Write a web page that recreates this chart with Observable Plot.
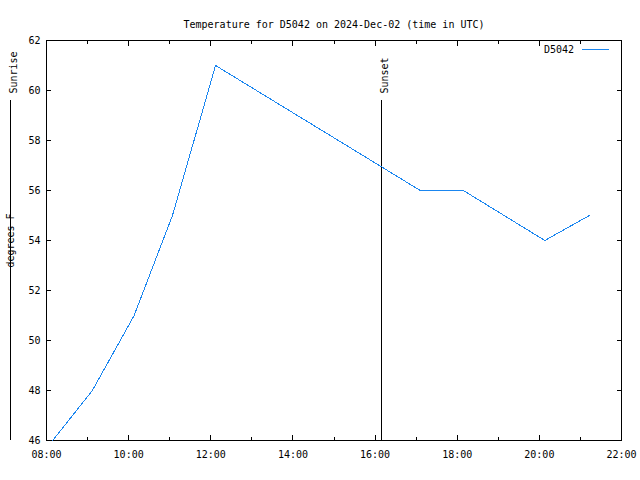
<!DOCTYPE html>
<html>
<head>
<meta charset="utf-8">
<script src="https://cdn.jsdelivr.net/npm/d3@7"></script>
<script src="https://cdn.jsdelivr.net/npm/@observablehq/plot@0.6"></script>
<style>
  html, body { margin: 0; padding: 0; background: #fff; }
  svg { display: block; }
</style>
</head>
<body>
<div id="chart"></div>
<script>
// ---- data (times in UTC) ----
const station = "D5042";
const titleText = "Temperature for D5042 on 2024-Dec-02 (time in UTC)";
const yLabel = "degrees F";
const obsTimes = ["08:09", "09:07", "10:08", "11:04", "12:07", "17:06", "18:09", "20:08", "21:13"];
const obsTemps = [46, 48, 51, 55, 61, 56, 56, 54, 55];
const eventLabels = ["Sunrise", "Sunset"];
const eventTimes = ["07:07", "16:09"];
const yTicks = [46, 48, 50, 52, 54, 56, 58, 60, 62];
const xDomainTimes = ["08:00", "22:00"];

const day = "2024-12-02";
const toDate = (t) => new Date(`${day}T${t}:00Z`);
const data = obsTimes.map((t, i) => ({time: toDate(t), temp: obsTemps[i]}));
const events = eventTimes.map((t, i) => ({time: toDate(t), label: eventLabels[i]}));
const xDomain = xDomainTimes.map(toDate);
const majorX = d3.utcHour.every(2).range(xDomain[0], new Date(+xDomain[1] + 1));
const minorX = d3.utcHour.every(1).range(xDomain[0], new Date(+xDomain[1] + 1));

const lineColor = "#1a86f0";
const font = "'DejaVu Sans Mono', 'Liberation Mono', monospace";

const legendMark = (index, scales, values, dims) => {
  const g = d3.create("svg:g");
  const right = dims.width - dims.marginRight;
  const y = dims.marginTop + 9.5;
  g.append("line")
    .attr("x1", right - 39).attr("x2", right - 12)
    .attr("y1", y).attr("y2", y)
    .attr("stroke", lineColor).attr("stroke-width", 1);
  g.append("text")
    .attr("x", right - 47).attr("y", y)
    .attr("dy", "0.35em")
    .attr("text-anchor", "end")
    .attr("fill", "black")
    .attr("font-family", font).attr("font-size", 10)
    .text(station);
  return g.node();
};

const chart = Plot.plot({
  width: 640,
  height: 480,
  marginLeft: 46,
  marginRight: 19,
  marginTop: 40,
  marginBottom: 40,
  style: {fontFamily: font, fontSize: "10px", color: "black", background: "white"},
  x: {type: "utc", domain: xDomain},
  y: {domain: [46, 62]},
  marks: [
    Plot.frame({stroke: "black", shapeRendering: "crispEdges"}),
    // bottom axis: labels + inward ticks
    Plot.axisX(majorX, {anchor: "bottom", tickSize: 0, tickPadding: 10, tickFormat: d3.utcFormat("%H:%M"), label: null}),
    Plot.axisX(majorX, {anchor: "bottom", tickSize: -5, tickFormat: () => "", label: null, shapeRendering: "crispEdges"}),
    Plot.axisX(minorX, {anchor: "bottom", tickSize: -3, tickFormat: () => "", label: null, shapeRendering: "crispEdges"}),
    Plot.axisX(majorX, {anchor: "top", tickSize: -5, tickFormat: () => "", label: null, shapeRendering: "crispEdges"}),
    Plot.axisX(minorX, {anchor: "top", tickSize: -3, tickFormat: () => "", label: null, shapeRendering: "crispEdges"}),
    // left axis
    Plot.axisY(yTicks, {anchor: "left", tickSize: 0, tickPadding: 6, label: yLabel, labelAnchor: "center", labelOffset: 40, labelArrow: "none"}),
    Plot.axisY(yTicks, {anchor: "left", tickSize: -5, tickFormat: () => "", label: null, shapeRendering: "crispEdges"}),
    Plot.axisY(yTicks, {anchor: "right", tickSize: -5, tickFormat: () => "", label: null, shapeRendering: "crispEdges"}),
    // sunrise / sunset
    Plot.ruleX(events, {x: "time", insetTop: 60, stroke: "black", shapeRendering: "crispEdges"}),
    Plot.text(events, {x: "time", text: "label", frameAnchor: "top", rotate: -90, textAnchor: "start", dy: 53, fill: "black", fontSize: 10}),
    // data line
    Plot.line(data, {x: "time", y: "temp", stroke: lineColor, strokeWidth: 1, shapeRendering: "crispEdges"}),
    // title
    Plot.text([titleText], {frameAnchor: "top", dy: -20, fill: "black", fontSize: 10}),
    legendMark
  ]
});

document.getElementById("chart").appendChild(chart);
</script>
</body>
</html>
